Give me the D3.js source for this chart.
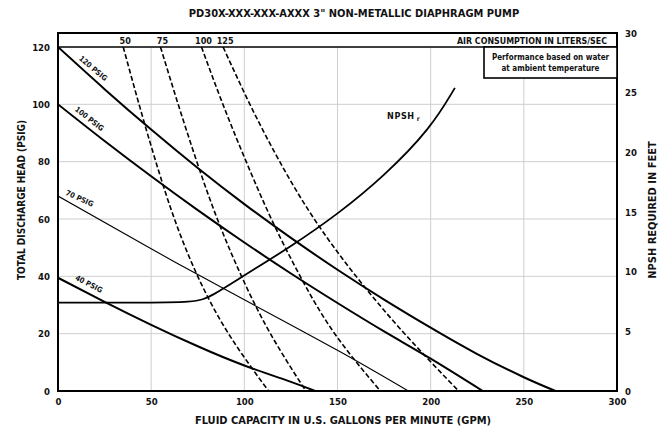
<!DOCTYPE html>
<html><head><meta charset="utf-8">
<script src="https://cdn.jsdelivr.net/npm/d3@7/dist/d3.min.js"></script>
<style>
body{margin:0;background:#fff;}
text{font-family:"DejaVu Sans Condensed","Liberation Sans Narrow",sans-serif;font-weight:bold;fill:#111;}
</style></head>
<body><svg id="c" width="668" height="434"></svg>
<script>
// ---- data ----
const title = 'PD30X-XXX-XXX-AXXX 3" NON-METALLIC DIAPHRAGM PUMP';
const xTicks = [0,50,100,150,200,250,300];
const yLeftTicks = [0,20,40,60,80,100,120];
const yRightTicks = [0,5,10,15,20,25,30];
// head curves: [GPM, PSIG]
const psig120 = [[0,120],[25,105.3],[50,91.2],[75,77.8],[100,65.2],[125,53.4],[150,42.3],[175,31.9],[200,22.1],[225,12.9],[250,4.8],[267,0]];
const psig100 = [[0,100],[25,87.2],[50,74.9],[75,63.1],[100,51.8],[125,41.0],[150,30.7],[175,20.8],[200,11.3],[228,0]];
const psig70 = [[0,68],[50,49.6],[100,31.8],[150,14.2],[188,0]];
const psig40 = [[0,39.5],[25,31.1],[50,23.1],[75,15.6],[100,8.9],[125,3.2],[138,0]];
const headNames = ["120 PSIG","100 PSIG","70 PSIG","40 PSIG"];
// air consumption curves (liters/sec): [GPM, PSIG]
const air50 = [[35,120],[43.5,100],[52.5,80],[62.5,60],[75,40],[91.5,20],[113,0]];
const air75 = [[55,120],[64.5,100],[74.5,80],[85.5,60],[98.5,40],[114,20],[133,0]];
const air100 = [[77,120],[88.5,100],[101,80],[114.5,60],[130,40],[148.5,20],[173,0]];
const air125 = [[88.6,120],[103,100],[119,80],[137.5,60],[160,40],[186,20],[215,0]];
const airNames = ["50","75","100","125"];
// NPSH required: [GPM, feet]
const npsh = [[0,7.4],[40,7.4],[74,7.4],[82,7.9],[100,9.7],[125,12.1],[150,14.8],[175,18.0],[200,22.0],[213,25.4]];

// ---- layout ----
const svg = d3.select("#c");
const L=58, R=617, T=33, HB=47, B=391;
const x = d3.scaleLinear([0,300],[L,R]);
const yL = d3.scaleLinear([0,120],[B,HB]);
const yR = d3.scaleLinear([0,30],[B,T]);
const boxL = 484, boxB = 78;

// grid
const g = svg.append("g");
[50,100,150,200,250].forEach(v=>{
  const top = x(v) > boxL ? boxB : HB;
  g.append("line").attr("x1",x(v)).attr("x2",x(v)).attr("y1",top).attr("y2",B)
   .attr("stroke","#cfcfcf").attr("stroke-width",1);
});
[20,40,60,80,100].forEach(v=>{
  g.append("line").attr("x1",L).attr("x2",R).attr("y1",yL(v)).attr("y2",yL(v))
   .attr("stroke","#cfcfcf").attr("stroke-width",1);
});

// axes (labels only)
const ax = svg.append("g").attr("transform",`translate(0,${B})`)
  .call(d3.axisBottom(x).tickValues(xTicks).tickSize(0).tickPadding(7));
const ayl = svg.append("g").attr("transform",`translate(${L},0)`)
  .call(d3.axisLeft(yL).tickValues(yLeftTicks).tickSize(0).tickPadding(8));
const ayr = svg.append("g").attr("transform",`translate(${R},0)`)
  .call(d3.axisRight(yR).tickValues(yRightTicks).tickSize(0).tickPadding(8));
[ax,ayl,ayr].forEach(a=>{a.select(".domain").remove();
  a.selectAll("text").style("font-family",'"DejaVu Sans Condensed","Liberation Sans Narrow",sans-serif')
   .style("font-weight","bold").style("font-size","9.5px").attr("fill","#111");});

// curves
const lineL = d3.line().x(d=>x(d[0])).y(d=>yL(d[1])).curve(d3.curveNatural);
const lineR = d3.line().x(d=>x(d[0])).y(d=>yR(d[1])).curve(d3.curveBasis);
svg.append("clipPath").attr("id","pc").append("rect")
  .attr("x",L).attr("y",HB).attr("width",R-L).attr("height",B-HB);
const cg = svg.append("g").attr("clip-path","url(#pc)");
[psig120,psig100,psig70,psig40].forEach((d,i)=>{
  cg.append("path").attr("d",lineL(d)).attr("fill","none").attr("stroke","#000")
    .attr("stroke-width", i===2 ? 1.1 : 2);
});
[air50,air75,air100,air125].forEach(d=>{
  cg.append("path").attr("d",lineL(d)).attr("fill","none").attr("stroke","#000")
    .attr("stroke-width",1.6).attr("stroke-dasharray","5,2.5");
});
cg.append("path").attr("d",lineR(npsh)).attr("fill","none").attr("stroke","#000").attr("stroke-width",1.8);

// frame & header band
svg.append("rect").attr("x",L).attr("y",T).attr("width",R-L).attr("height",B-T)
  .attr("fill","none").attr("stroke","#000").attr("stroke-width",2);
svg.append("line").attr("x1",L).attr("x2",R).attr("y1",HB).attr("y2",HB).attr("stroke","#000").attr("stroke-width",1.6);
// note box
svg.append("rect").attr("x",boxL).attr("y",HB).attr("width",R-boxL).attr("height",boxB-HB)
  .attr("fill","#fff").attr("stroke","#000").attr("stroke-width",1.6);
svg.append("text").attr("x",(boxL+R)/2).attr("y",60).attr("text-anchor","middle").style("font-size","8px").text("Performance based on water");
svg.append("text").attr("x",(boxL+R)/2).attr("y",71).attr("text-anchor","middle").style("font-size","8px").text("at ambient temperature");

// header labels
[air50,air75,air100,air125].forEach((d,i)=>{
  svg.append("text").attr("x",x(d[0][0])+2).attr("y",44).attr("text-anchor","middle")
    .style("font-size","9px").text(airNames[i]);
});
svg.append("text").attr("x",R-10).attr("y",44).attr("text-anchor","end").style("font-size","8.8px")
  .text("AIR CONSUMPTION IN LITERS/SEC");

// head curve labels
const labGPM = [18,16,11,16];
const labAng = [40,38,25,27];
[psig120,psig100,psig70,psig40].forEach((d,i)=>{
  const gp = labGPM[i];
  const val = d[0][1] + (d[1][1]-d[0][1])*gp/(d[1][0]-d[0][0]);
  svg.append("text").attr("transform",`translate(${x(gp)},${yL(val)-7}) rotate(${labAng[i]})`)
    .attr("text-anchor","middle").style("font-size","7.5px").text(headNames[i]);
});
// NPSH label
const nl = svg.append("text").attr("x",387).attr("y",119).style("font-size","9px").style("letter-spacing","0.6px").text("NPSH");
nl.append("tspan").attr("dx",2).attr("dy",2).style("font-size","6.5px").text("r");

// titles
svg.append("text").attr("x",354).attr("y",17).attr("text-anchor","middle").style("font-size","11px").text(title);
svg.append("text").attr("x",343).attr("y",424).attr("text-anchor","middle").style("font-size","11px")
  .text("FLUID CAPACITY IN U.S. GALLONS PER MINUTE (GPM)");
svg.append("text").attr("transform","translate(25,200) rotate(-90)").attr("text-anchor","middle").style("font-size","10px")
  .text("TOTAL DISCHARGE HEAD (PSIG)");
svg.append("text").attr("transform","translate(656,210) rotate(-90)").attr("text-anchor","middle").style("font-size","11px")
  .text("NPSH REQUIRED IN FEET");
</script></body></html>
